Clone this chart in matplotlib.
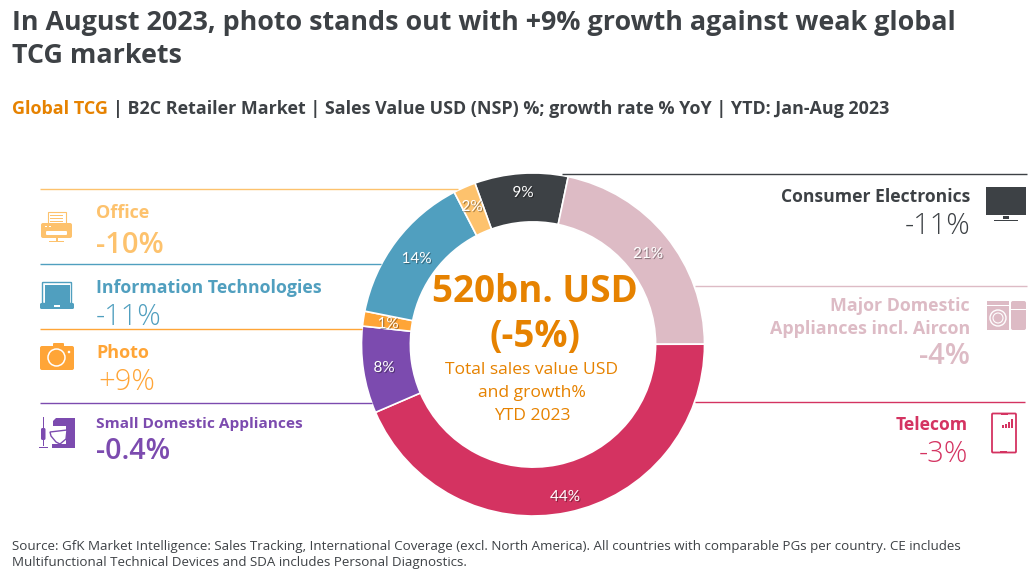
import matplotlib
matplotlib.use("Agg")
import matplotlib.pyplot as plt
import matplotlib.patheffects as pe
from matplotlib.patches import Rectangle, Circle, FancyBboxPatch, Polygon

plt.rcParams['font.family'] = ['Open Sans', 'DejaVu Sans']

W, H = 1036, 577
categories = ["Consumer Electronics", "Major Domestic Appliances", "Telecom",
              "Small Domestic Appliances", "Photo", "Information Technologies", "Office"]
shares = [8.8, 21.7, 43.6, 8.2, 1.4, 14.3, 2.1]
share_labels = ["9%", "21%", "44%", "8%", "1%", "14%", "2%"]
growth_labels = ["-11%", "-4%", "-3%", "-0.4%", "+9%", "-11%", "-10%"]
colors = ["#3D4145", "#DDBBC5", "#D43361", "#7C4BAF", "#FFA537", "#509FBF", "#FDC26D"]
ORANGE = "#E68200"
DARK = "#3D4145"

fig = plt.figure(figsize=(W / 100, H / 100), dpi=100, facecolor="white")

# canvas in pixel coordinates, drawn above the donut
bg = fig.add_axes([0, 0, 1, 1], zorder=2)
bg.set_xlim(0, W)
bg.set_ylim(H, 0)
bg.axis("off")

# donut
cx, cy, R = 533, 344.5, 171.5
pie_ax = fig.add_axes([(cx - R) / W, 1 - (cy + R) / H, 2 * R / W, 2 * R / H], zorder=1)
wedges, _ = pie_ax.pie(shares, colors=colors, startangle=109.8, counterclock=False, radius=1,
                       wedgeprops=dict(width=0.285, edgecolor="white", linewidth=1.2))
pie_ax.set_xlim(-1, 1)
pie_ax.set_ylim(-1, 1)
pie_ax.set_aspect("equal")

# connector rules
for x0, x1, y, c in [(40, 458, 188.7, colors[6]), (40, 381, 263.7, colors[5]),
                     (40, 362, 328.7, colors[4]), (40, 372, 402.7, colors[3]),
                     (562, 1027, 173.7, colors[0]), (695, 1027, 285.7, colors[1]),
                     (695, 1025, 401.7, colors[2])]:
    bg.plot([x0, x1], [y, y], color=c, lw=1.0, solid_capstyle="butt", zorder=1)

def T(x, y, s, size, color, weight="normal", ha="left", **kw):
    return bg.text(x, y, s, fontsize=size, color=color, fontweight=weight, ha=ha, va="baseline", **kw)

# title block
T(12, 30, "In August 2023, photo stands out with +9% growth against weak global", 19.35, DARK, "bold")
T(12, 63, "TCG markets", 19.35, DARK, "bold")
t0 = T(12, 114, "Global TCG", 13, ORANGE, "bold")
fig.canvas.draw()
ext = t0.get_window_extent()
T(ext.x1 + 5, 114, "| B2C Retailer Market | Sales Value USD (NSP) %; growth rate % YoY | YTD: Jan-Aug 2023",
  12.9, DARK, "bold")

# left labels
T(96, 218, "Office", 13, colors[6], "bold")
T(96, 253, growth_labels[6], 21, colors[6], "semibold")
T(96, 293, "Information Technologies", 12.8, colors[5], "bold")
T(96, 325, growth_labels[5], 21, colors[5], "light")
T(96, 358, "Photo", 13, colors[4], "bold")
T(98, 390, growth_labels[4], 21, colors[4], "light")
T(96, 428, "Small Domestic Appliances", 11.1, colors[3], "bold")
T(96, 459, growth_labels[3], 20.5, colors[3], "semibold")

# right labels
T(970, 202, "Consumer Electronics", 12.6, DARK, "bold", ha="right")
T(970, 234, growth_labels[0], 21, DARK, "light", ha="right")
T(970, 311, "Major Domestic", 12.8, colors[1], "bold", ha="right")
T(970, 334, "Appliances incl. Aircon", 12.9, colors[1], "bold", ha="right")
T(970, 364, growth_labels[1], 21, colors[1], "semibold", ha="right")
T(968, 430, "Telecom", 12.6, colors[2], "bold", ha="right")
T(968, 462, growth_labels[2], 21, colors[2], "light", ha="right")

# centre text
T(535, 302, "520bn. USD", 26.5, ORANGE, "bold", ha="center")
T(535, 347, "(-5%)", 26.5, ORANGE, "bold", ha="center")
T(532, 374, "Total sales value USD", 12.6, ORANGE, ha="center")
T(532, 397, "and growth%", 12.6, ORANGE, ha="center")
T(532, 420, "YTD 2023", 12.6, ORANGE, ha="center")

# share labels
shadow = [pe.withSimplePatchShadow(offset=(0.8, -0.8), shadow_rgbFace="#000000", alpha=0.35)]
for (x, y), lab in zip([(523, 197), (648, 258), (565, 501), (384, 372), (388, 328), (416.5, 263), (472, 211)], share_labels):
    bg.text(x, y, lab, fontsize=11, color="white", ha="center", va="baseline",
            family=["Lato", "DejaVu Sans"], path_effects=shadow, zorder=5)

# source
T(12, 550, "Source: GfK Market Intelligence: Sales Tracking, International Coverage (excl. North America). All countries with comparable PGs per country. CE includes",
  9.6, DARK)
T(12, 566, "Multifunctional Technical Devices and SDA includes Personal Diagnostics.", 9.6, DARK)

def R_(x, y, w, h, c, z=3, **kw):
    bg.add_patch(Rectangle((x, y), w, h, facecolor=c, edgecolor="none", zorder=z, **kw))

def RR(x, y, w, h, c, r=2, z=3, ec="none", lw=0):
    bg.add_patch(FancyBboxPatch((x + r, y + r), w - 2 * r, h - 2 * r, boxstyle=f"round,pad={r}",
                                facecolor=c, edgecolor=ec, linewidth=lw, zorder=z))

# printer
c = colors[6]
bg.add_patch(Rectangle((47.5, 211.5), 18, 12, facecolor="white", edgecolor=c, lw=0.8, zorder=3))
for y in (215, 218, 221):
    R_(50, y, 13, 1, c)
RR(41, 223, 31, 15, c)
RR(46, 231, 21, 4, "white", r=1, z=4)
R_(45, 225.5, 1.5, 1.5, "white", 4)
R_(49, 225.5, 1.5, 1.5, "white", 4)
R_(55.5, 238, 2, 3, c)
R_(49, 240.5, 15, 1, c)

# laptop
c = colors[5]
bg.add_patch(FancyBboxPatch((43, 283), 28, 20, boxstyle="round,pad=0.5", facecolor="white", edgecolor=c, lw=1, zorder=3))
R_(44.5, 284.5, 25, 18, c, 4)
RR(40, 303, 34, 6, c, r=1.5)
R_(54, 305, 6, 1.5, "white", 4)

# camera
c = colors[4]
RR(53, 343, 11, 5, c, r=1)
RR(40, 346, 34, 24, c, r=2)
bg.add_patch(Circle((56.5, 357.5), 8.5, facecolor=c, edgecolor="white", lw=1.1, zorder=4))
bg.add_patch(Circle((69, 352), 1.3, facecolor="white", edgecolor="none", zorder=4))

# mixer
c = colors[3]
R_(42.8, 417, 0.9, 14, c)
RR(41, 428, 4.5, 12, c, r=1.5)
R_(43, 440, 1, 6, c)
R_(39, 447, 9, 1, c)
bg.add_patch(Polygon([(56, 418), (75, 418), (75, 448), (52, 448), (52, 444), (66, 444), (66, 426), (53, 426), (53, 421)],
                     closed=True, facecolor=c, edgecolor="none", zorder=3))
bg.add_patch(Polygon([(50, 432), (67, 430), (66, 439), (60, 444), (56, 442), (51, 436)],
                     closed=True, facecolor="white", edgecolor=c, lw=1, zorder=4))

# TV
c = colors[0]
R_(986, 187, 40, 28, c)
R_(1003, 216, 6, 3, c)
R_(994, 219.5, 24, 1.2, c)

# washer + fridge
c = colors[1]
R_(987, 301, 22, 29, c)
RR(1011, 301, 15, 29, c, r=2)
R_(987, 305, 22, 1, "white", 4)
R_(1011, 309, 15, 1, "white", 4)
bg.add_patch(Circle((998, 318), 8, facecolor=c, edgecolor="white", lw=1, zorder=4))
bg.add_patch(Circle((998, 318), 5, facecolor=c, edgecolor="white", lw=0.8, zorder=4))

# phone
c = colors[2]
bg.add_patch(FancyBboxPatch((993, 414.5), 22, 37, boxstyle="round,pad=1", facecolor="white", edgecolor=c, lw=1.3, zorder=3))
R_(1001, 413.5, 7, 1.5, c, 4)
R_(1000, 450.5, 7, 2, c, 4)
for x, top in [(1002, 425), (1005, 424), (1008, 422), (1011, 419)]:
    R_(x, top, 2, 426.5 - top + 1, c, 4)

fig.savefig("out.png", dpi=100, facecolor="white")
